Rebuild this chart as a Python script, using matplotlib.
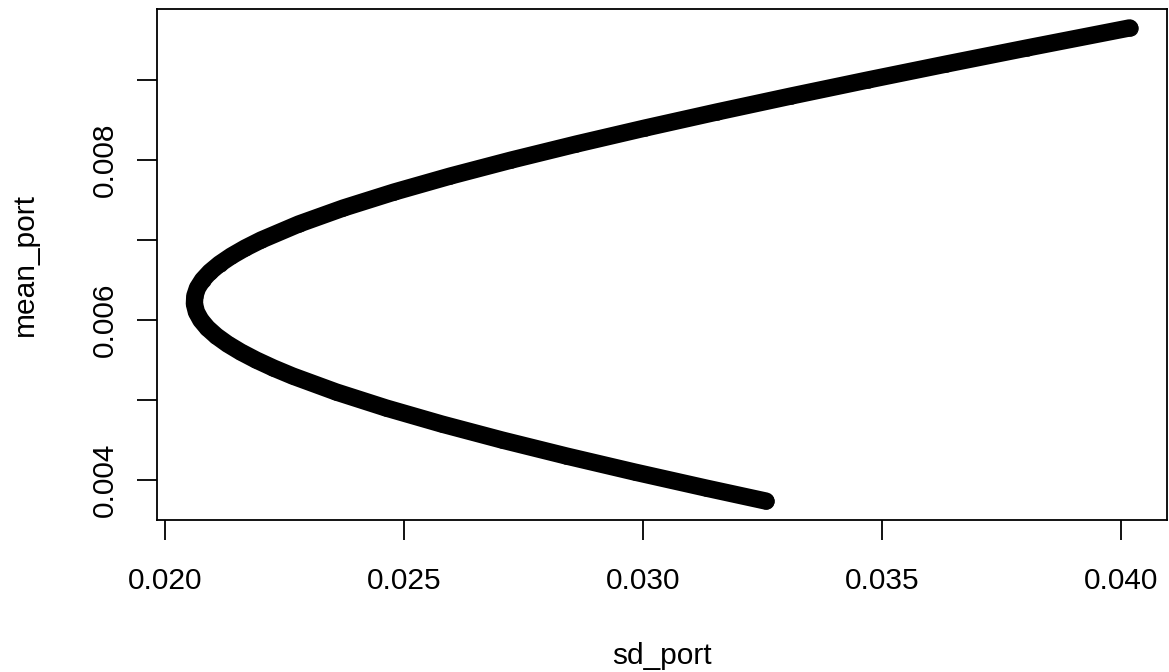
import matplotlib
matplotlib.use("Agg")
import matplotlib.pyplot as plt
import numpy as np

plt.rcParams['font.family'] = ['Liberation Sans', 'DejaVu Sans']

# portfolio frontier
mean_port = [0.003737, 0.0039, 0.0041, 0.0043, 0.0045, 0.0047, 0.0049, 0.0051,
             0.0053, 0.0054, 0.0055, 0.0056, 0.0057, 0.0058, 0.0059, 0.0060,
             0.0061, 0.0062, 0.0063, 0.0064, 0.0065, 0.0066, 0.0067, 0.0068,
             0.0069, 0.0070, 0.0072, 0.0074, 0.0076, 0.0078, 0.0080, 0.0082,
             0.0084, 0.0086, 0.0088, 0.0090, 0.0092, 0.0094, 0.009651]
sd_port = [0.032573, 0.031317, 0.029826, 0.028401, 0.027052, 0.025791, 0.024630,
           0.023586, 0.022673, 0.022272, 0.021910, 0.021589, 0.021311, 0.021078,
           0.020891, 0.020751, 0.020660, 0.020618, 0.020626, 0.020682, 0.020788,
           0.020942, 0.021143, 0.021390, 0.021681, 0.022014, 0.022801, 0.023734,
           0.024797, 0.025973, 0.027249, 0.028610, 0.030046, 0.031545, 0.033100,
           0.034702, 0.036346, 0.038027, 0.040180]

xticks = [0.020, 0.025, 0.030, 0.035, 0.040]
yticks = [0.004, 0.005, 0.006, 0.007, 0.008, 0.009]
ylabels = ['0.004', '', '0.006', '', '0.008', '']

fig = plt.figure(figsize=(11.69, 6.72), dpi=100)
ax = fig.add_axes([157 / 1169, 1 - 520 / 672, 1010 / 1169, 511 / 672])

# dense circles in the original merge into one thick band
ax.plot(sd_port, mean_port, '-', color='black', lw=12.5,
        solid_capstyle='round', solid_joinstyle='round')
ax.plot(sd_port, mean_port, 'o', mfc='none', mec='black', ms=11, mew=0.8)

# R style 4% padding
x0, x1 = min(sd_port), max(sd_port)
y0, y1 = min(mean_port), max(mean_port)
ax.set_xlim(x0 - 0.04 * (x1 - x0), x1 + 0.04 * (x1 - x0))
ax.set_ylim(y0 - 0.04 * (y1 - y0), y1 + 0.04 * (y1 - y0))

ax.set_xticks(xticks)
ax.set_xticklabels(['%.3f' % v for v in xticks])
ax.set_yticks(yticks)
ax.set_yticklabels(ylabels, rotation=90, va='center')

ax.tick_params(axis='both', direction='out', length=14.4, width=1.3,
               labelsize=21.5, color='black')
ax.tick_params(axis='x', pad=19.5)
ax.tick_params(axis='y', pad=13)
for s in ax.spines.values():
    s.set_linewidth(1.3)

ax.set_xlabel('sd_port', fontsize=21.5)
ax.set_ylabel('mean_port', fontsize=21.5)
ax.xaxis.set_label_coords(0.5, 1 - (656 - 9) / 511)
ax.yaxis.set_label_coords((25 - 157) / 1010, 0.5)
ax.xaxis.label.set_va('center')
ax.yaxis.label.set_va('center')

fig.savefig('out.png', dpi=100)
